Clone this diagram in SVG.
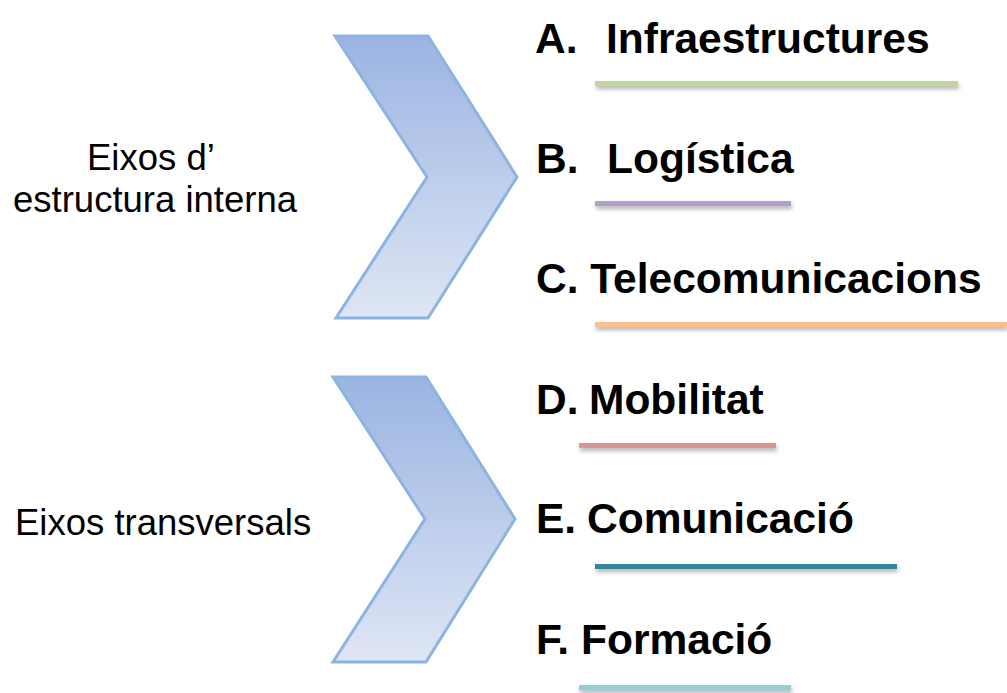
<svg xmlns="http://www.w3.org/2000/svg" width="1007" height="693" viewBox="0 0 1007 693">
<style>
.lbl{font-family:"Liberation Sans",Arial,sans-serif;font-size:36.5px;fill:#000}
.item{font-family:"Liberation Sans",Arial,sans-serif;font-size:42.5px;font-weight:bold;fill:#000}
.chev{fill:url(#g);stroke:#8db3e2;stroke-width:3;stroke-linejoin:miter}
.ul{filter:url(#sh)}
</style>
<defs>
<linearGradient id="g" x1="0" y1="0" x2="0" y2="1">
<stop offset="0" stop-color="#9ab4e2"/>
<stop offset="1" stop-color="#dfe6f4"/>
</linearGradient>
<filter id="sh" x="-5%" y="-200%" width="110%" height="500%">
<feDropShadow dx="1" dy="3" stdDeviation="2" flood-color="#000" flood-opacity="0.3"/>
</filter>
</defs>
<g id="chevron1"><polygon class="chev" points="335,36 428,36 517,177 428,318 336,318 427,177"/></g>
<g id="chevron2"><polygon class="chev" points="333,377 426,377 515,519 426,662 333,662 425,519"/></g>
<g id="label1">
<text class="lbl" x="87" y="170">Eixos d’</text>
<text class="lbl" x="13" y="212">estructura interna</text>
</g>
<g id="label2"><text class="lbl" x="15" y="535">Eixos transversals</text></g>
<g id="itemA"><text class="item" y="53"><tspan x="535">A.</tspan><tspan x="606">Infraestructures</tspan></text></g>
<g id="itemB"><text class="item" y="173"><tspan x="536">B.</tspan><tspan x="607">Logística</tspan></text></g>
<g id="itemC"><text class="item" x="536" y="293">C. Telecomunicacions</text></g>
<g id="itemD"><text class="item" y="414"><tspan x="536">D.</tspan><tspan x="589">Mobilitat</tspan></text></g>
<g id="itemE"><text class="item" y="533"><tspan x="536">E.</tspan><tspan x="587">Comunicació</tspan></text></g>
<g id="itemF"><text class="item" y="654"><tspan x="536">F.</tspan><tspan x="581">Formació</tspan></text></g>
<g id="connectors">
<rect class="ul" x="595" y="81" width="363" height="5" fill="#c3d69b"/>
<rect class="ul" x="595" y="201" width="196" height="5" fill="#b3a2c7"/>
<rect class="ul" x="595" y="322" width="412" height="5" fill="#fac090"/>
<rect class="ul" x="579" y="443" width="197" height="5" fill="#d99694"/>
<rect class="ul" x="595" y="564" width="302" height="5" fill="#31859c"/>
<rect class="ul" x="579" y="685" width="212" height="5" fill="#93cddd"/>
</g>
</svg>
